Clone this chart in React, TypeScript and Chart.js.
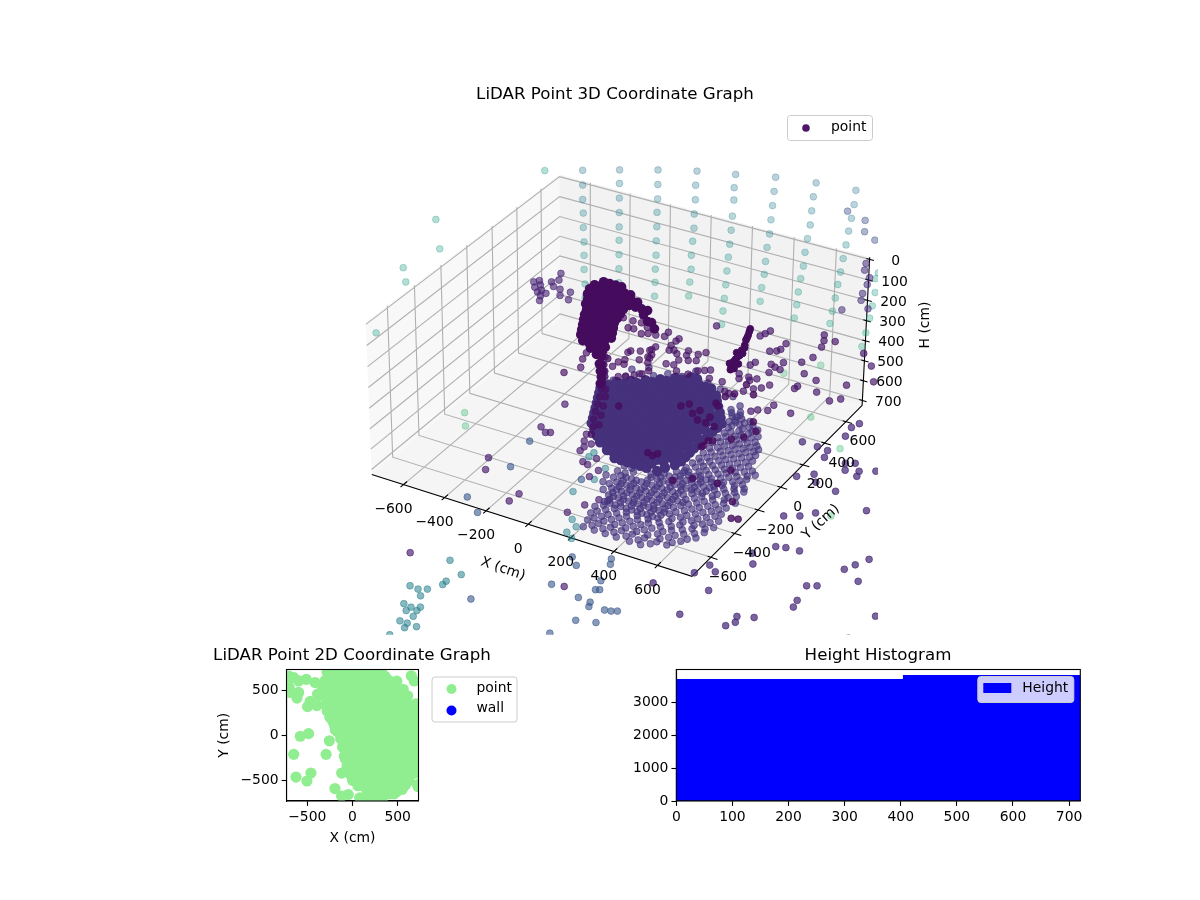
import React, { useEffect, useRef } from "react";
import { Chart, registerables } from "chart.js";

Chart.register(...registerables);

/* ---------- axis ranges and ticks ---------- */
const xyLimit = 756;
const heightTop = -10;
const heightBottom = 725;
const xTicks = [-600, -400, -200, 0, 200, 400, 600];
const yTicks = [-600, -400, -200, 0, 200, 400, 600];
const hTicks = [0, 100, 200, 300, 400, 500, 600, 700];
const planTicks = [-500, 0, 500];
const histXTicks = [0, 100, 200, 300, 400, 500, 600, 700];
const histYTicks = [0, 1000, 2000, 3000];

/* ---------- 3D data, cm ---------- */
const floorH = 722;
const cmScale = 756 / 740;

// on the far side: [x, H, colour]
const wallColA = [[-625,-62,.38],[-625,11,.40],[-625,83,.42],[-622,150,.44],[-622,223,.46],[-618,295,.48],[-618,363,.50],[-618,435,.52],[-613,508,.54],[-613,580,.56],[-613,648,.58]];
const wallColB = [[-444,-112,.38],[-444,-45,.40],[-444,27,.42],[-444,99,.44],[-444,171,.46],[-444,238,.48],[-444,310,.50],[-444,382,.52],[-444,453,.54]];
const wallColC = [[-258,-161,.38],[-258,-90,.40],[-258,-19,.42],[-260,48,.44],[-260,119,.46],[-262,190,.48],[-262,262,.50],[-265,333,.52],[-265,400,.54],[-267,471,.56]];
const wallColD = [[-72,-205,.38],[-77,-135,.40],[-77,-64,.42],[-81,7,.44],[-81,77,.46],[-86,143,.48],[-91,214,.50],[-91,284,.52],[-96,350,.54],[-100,421,.56]];
const wallColE = [[110,-237,.38],[105,-172,.40],[105,-112,.42],[100,-32,.44],[96,38,.46],[91,108,.48],[86,174,.50],[81,244,.52],[77,314,.54],[72,384,.56],[67,449,.58],[62,519,.60]];
const wallColF = [[296,-273,.38],[291,-204,.40],[286,-134,.42],[281,-64,.44],[277,6,.46],[267,75,.48],[262,145,.50],[258,210,.52],[248,279,.54],[243,349,.56]];
const wallColG = [[482,-296,.38],[472,-227,.40],[467,-158,.42],[463,-89,.44],[453,-20,.46],[444,49,.48],[439,118,.50],[429,182,.52],[420,251,.54],[415,316,.56],[406,385,.58]];
const wallColH = [[663,-309,.38],[658,-240,.40],[649,-172,.42],[639,-108,.44],[630,-39,.46],[620,30,.48],[611,98,.50],[601,162,.52],[592,231,.54],[582,299,.56],[573,363,.58]];
const wallColI = [[783,53,.50],[773,84,.52],[773,152,.54],[763,220,.56],[754,283,.58],[740,360,.60],[725,433,.62],[367,676,.68],[539,583,.68]];
const wallBlue = [[630,-201],[711,-179],[711,-125],[759,-98]];
const wallPurple = [[725,24],[720,58],[744,88],[735,124],[716,173],[711,208],[744,240],[625,280]];

// left side: [y, H]
const leftWallDots = [[619,-85],[-224,-240],[-201,-90],[-467,-130],[-452,-55],[-672,75]];

// back-left cluster and mid-height scatter: [x, H]
const backCluster = [[-735,489],[-845,557],[-874,572],[-783,546],[-745,526],[-840,578],[-869,598],[-773,567],[-740,572],[-835,604],[-855,619],[-812,614],[-687,572],[-740,604],[-697,614],[-840,635],[-845,661]];
const midScatterLeft = [[-606,560],[-420,626],[-396,671],[-368,668],[-372,628],[-330,626],[-330,682],[-296,671],[-301,640],[-606,865],[-625,903],[-635,950],[-721,1004],[-396,799],[-382,787],[-334,774],[-287,756],[-277,776],[-296,793],[-411,842],[-415,867],[-339,821],[-444,864],[-296,823],[-473,896],[-511,857],[-444,941],[-406,927],[-363,908],[-325,891],[-291,864]];
const midScatterCentre = [[38,533],[-258,668],[-215,662],[-196,635],[-143,653],[-158,669],[-182,699],[-258,729],[-277,749],[-287,796],[-191,726],[-167,719],[-153,733],[-96,701],[-105,727],[-48,705],[-57,740],[-96,751],[-10,684],[-143,763],[-167,795],[-205,801],[-153,823],[-48,790],[-15,778],[14,767],[-96,822],[9,812]];
const midScatterRight = [[248,522],[296,482],[272,503],[372,524],[296,585],[329,574],[348,560],[229,662],[205,683],[363,623],[305,649],[324,658],[348,663],[296,694],[449,595],[501,555],[463,649],[539,491],[549,456],[549,427],[601,445],[520,666],[663,646],[735,464],[773,516],[787,591],[420,738],[434,722],[525,724],[587,750],[639,724],[153,744],[153,769],[239,744],[200,747],[205,762],[224,800],[176,827],[262,784],[301,757],[72,810],[86,855],[105,860],[324,854],[296,890],[406,870],[248,902],[215,919]];

// dark arms: rows of [H, x list]
const armRows = [
  [470,[-520,-490,-460,-430]],
  [498,[-565,-535,-505,-475,-445,-415,-385]],
  [526,[-590,-560,-530,-500,-470,-440,-410,-380,-350]],
  [554,[-600,-570,-540,-510,-480,-450,-420,-390,-360,-330,-300]],
  [582,[-600,-570,-540,-510,-480,-450,-420,-320]],
  [610,[-610,-580,-550,-520,-490,-460,-435,-300,-280]],
  [638,[-605,-575,-545,-515,-485,-450,-265]],
  [666,[-615,-585,-555,-525,-495,-465]],
  [694,[-620,-590,-560,-530,-500,-470]],
  [722,[-625,-595,-565,-535,-505,-475]],
  [750,[-630,-600,-570,-540,-510,-480]],
  [778,[-635,-605,-575,-545,-515]],
  [806,[-625,-595,-565,-535,-510]],
  [834,[-585,-555,-525]],
  [858,[-555,-530]],
  [903,[-540,-530]],
  [940,[-535,-525]],
  [970,[-530]],
  [1006,[-535]],
];
const rightArm = [[200,500],[196,515],[191,535],[186,550],[181,562],[176,590],[176,604],[162,620],[167,635],[153,650],[143,660],[133,676],[124,690],[119,706],[114,720],[110,736],[148,695],[128,725],[105,705],[138,640]];

// on the floor: rows of [y, x list]
const coreRows = [
  [580,[5,35]],
  [540,[-50,-20,10,40,70,100,125]],
  [500,[-100,-70,-40,-10,20,50,80,110,140,170]],
  [462,[-150,-119,-88,-57,-26,5,36,67,98,129,160,195]],
  [424,[-200,-170,-140,-110,-80,-50,-20,10,40,70,100,130,160,190,222]],
  [386,[-250,-220,-190,-160,-130,-100,-70,-40,-10,20,50,80,110,140,170,200,250]],
  [348,[-298,-268,-238,-208,-178,-148,-118,-88,-58,-28,2,32,62,92,122,152,182,212,242,275]],
  [310,[-283,-253,-223,-193,-163,-133,-103,-73,-43,-13,17,47,77,107,137,167,197,227,257,300]],
  [272,[-267,-237,-207,-177,-147,-117,-87,-57,-27,3,33,63,93,123,153,183,213,243,300]],
  [234,[-251,-221,-191,-161,-131,-101,-71,-41,-11,19,49,79,109,139,169,199,229,259,298]],
  [196,[-234,-204,-174,-144,-114,-84,-54,-24,6,36,66,96,126,156,186,216,246,297]],
  [158,[-218,-188,-158,-128,-98,-68,-38,-8,22,52,82,112,142,172,202,232,262,296]],
  [120,[-202,-172,-142,-112,-82,-52,-22,8,38,68,98,128,158,188,218,248,294]],
  [82,[-186,-156,-126,-96,-66,-36,-6,24,54,84,114,144,174,204,234,264,295]],
  [44,[-170,-140,-110,-80,-50,-20,10,40,70,100,130,160,190,220,250,296]],
  [6,[-135,-105,-75,-45,-15,15,45,75,105,135,165,195,225,255,297]],
  [-32,[-100,-70,-40,-10,20,50,80,110,140,170,200,230,260,298]],
  [-70,[-63,-33,-3,27,57,87,117,147,177,207,237,290]],
  [-108,[-8,22,52,82,112,142,172,202,265]],
  [-146,[50,80,110,140,170,200,250]],
];
const coreFringe = [[-239,445],[-199,495],[-139,511],[-94,555],[-30,566],[-1,635],[-269,393],[-246,512],[-190,561],[90,574],[162,554],[237,527],[299,475],[330,390],[345,350]];
const latticeRows = [
  [-650,[200,250,300,350,410,460]],
  [-600,[190,240,295,345,395,450,505,550]],
  [-550,[175,225,270,320,370,420,480,530,585]],
  [-500,[165,215,265,310,360,410,465,515,570,625]],
  [-450,[180,230,280,330,375,425,475,525,580,635]],
  [-400,[170,215,262,305,355,400,450,500,550,600,650]],
  [-350,[155,200,250,295,340,390,440,490,540,590,645]],
  [-300,[150,195,240,285,335,385,430,480,530,585,630]],
  [-250,[140,190,235,285,330,380,430,480,525,575,625]],
  [-200,[170,280,335,390,440,490,535,590,640]],
  [-155,[260,310,360,415,470,520,570,620]],
  [-110,[320,375,430,480,530,585,630]],
  [-65,[340,400,445,500,555,600]],
  [-20,[345,395,450,500,550,595]],
  [25,[350,400,455,505,560,610]],
  [70,[345,400,450,505,555]],
  [115,[350,400,450,500,550]],
  [160,[340,395,445,495,540]],
  [205,[340,390,440,490,530]],
  [250,[345,395,440,490]],
  [295,[340,390,435,480]],
  [340,[320,370,415,455]],
  [385,[310,355,395]],
  [430,[280,325]],
];
const latticeRowsB = [
  [-625,[225,275,325,380,435,490]],
  [-575,[205,250,300,350,400,450,505,560]],
  [-525,[190,240,290,340,390,440,490,545,600]],
  [-475,[190,240,295,345,395,445,500,550,605]],
  [-425,[190,240,290,330,380,425,475,525,575,625]],
  [-375,[130,175,225,275,320,365,415,465,515,565,620]],
  [-325,[100,130,175,225,270,315,360,410,460,510,560,615]],
  [-275,[85,120,165,215,265,310,355,405,455,505,555,605]],
  [-225,[110,145,250,305,355,405,455,500,550,600]],
  [-178,[115,150,240,285,335,385,440,495,545,595]],
  [-132,[155,350,400,445,505,550,600]],
  [-88,[345,365,420,470,525,575,620]],
  [-42,[370,420,475,525,575]],
  [3,[370,425,480,530,585]],
  [47,[375,430,480,530,585]],
  [92,[370,425,475,530]],
  [137,[375,425,475,525]],
  [182,[365,420,470,520]],
  [228,[365,415,465,510]],
  [272,[365,415,460]],
  [318,[345,395,440]],
  [362,[335,380,420]],
  [408,[295,335]],
];
const latticeRowsC = [
  [-450,[205,255,305,352,400]],
  [-400,[192,238,284,330,378,425]],
  [-350,[178,225,272,318,365,415]],
  [-300,[170,215,262,310,360,408,455]],
  [-250,[165,212,260,308,355,405]],
  [-200,[252,308,362,415,465]],
  [-150,[285,335,388,442,495]],
  [-105,[348,402,455,505]],
];

// separate points on the floor plane: [x, y]
const floorOutliers = [[851,-187],[907,-155],[951,-104],[1120,12],[926,-398],[964,-385],[1021,-379],[868,-485],[906,-551],[764,-641],[805,-671],[738,-717],[1231,-407],[1254,-358],[1284,-297],[1315,-455],[1156,-581],[1191,-561],[844,-796],[634,-857],[1170,-687],[1178,-734],[826,-991],[1021,-896],[1034,-933],[1081,-870],[1013,-971],[1477,-633],[1539,-702],[1560,-750],[1452,-814],[760,101],[814,151],[848,100],[948,79],[1022,297],[922,309],[963,262],[887,289],[910,241],[972,223],[779,341],[792,287],[658,350],[729,347],[798,597],[783,553],[792,479]];
const floorPurple = [[-345,120],[-337,-86],[-298,-115],[-280,-105],[-397,-400],[-359,-483],[-146,-571],[-152,-636],[-144,-43],[-125,-93],[-88,-99],[-102,-133],[-101,-167],[-12,-186],[-48,-234],[-20,-244],[41,-261],[33,-319],[124,-511],[154,-450],[189,-439],[92,-592],[-290,-1145],[350,-1048]];
const floorBlue = [[-319,-206],[-283,-414],[-313,-694],[-217,-770],[16,-354],[300,-1059],[435,-1085],[490,-1090],[501,-1118],[564,-1108],[589,-1102],[610,-1090],[504,-1221],[578,-1196],[463,-1342],[465,-1007],[479,-999],[452,-944],[316,-900],[427,-828],[411,-793],[272,-857],[85,-1297]];
const floorTeal = [[33,-449],[135,-627],[176,-665],[164,-717],[203,-746],[-44,-152],[-46,-189],[-62,-57],[58,-234],[61,-328]];
const farTeal = [[-127,-1113],[-36,-1175],[-62,-1242],[-61,-1268],[-165,-1337],[-126,-1341],[-95,-1323],[-93,-1374],[-119,-1450],[-83,-1456],[-52,-1438],[-86,-1484],[-51,-1464],[-42,-1503],[-69,-1553],[-37,-1552],[6,-1554],[-29,-1582],[-52,-1648],[-49,-1708]];
const floorGreen = [[-672,-148],[-612,-236],[1014,-93],[817,380],[598,543]];
const columnPoints = [[-381,539],[-369,485],[-338,440],[-315,401],[-296,351],[-273,303],[-250,246],[-227,189],[-204,133],[-180,76],[-150,23],[-259,311],[-229,258],[-198,188],[-168,118],[-137,48],[-126,-33]];
const floorDark = [[84,351],[107,382],[200,445],[155,323],[171,358],[199,286],[239,283],[285,274],[233,332],[219,429],[318,119],[317,162],[334,172],[315,108],[147,-42],[175,-52],[186,-29],[393,223],[430,262],[-142,220],[408,389],[453,327],[507,8],[507,-106],[340,-176],[402,-123],[624,-196],[678,-306],[705,-298],[240,643],[305,584],[232,551],[209,511]];

/* ---------- 2D plan view, cm ---------- */
const planFill = [
  [-280,700],[-180,700],[-80,700],[20,700],[120,700],[220,700],[320,700],
  [-230,655],[-130,655],[-30,655],[70,655],[170,655],[270,655],[360,655],
  [-300,610],[-200,610],[-100,610],[0,610],[100,610],[200,610],[300,610],[400,610],[490,600],
  [-260,565],[-160,565],[-60,565],[40,565],[140,565],[240,565],[340,565],[440,565],
  [-330,520],[-230,520],[-130,520],[-30,520],[70,520],[170,520],[270,520],[370,520],[470,520],[560,510],
  [-290,475],[-190,475],[-90,475],[210,475],[310,475],[410,475],[510,475],
  [-370,440],[-280,430],[-180,430],[-80,430],[320,430],[420,430],[520,430],[610,438],
  [370,390],[470,390],[570,390],[400,340],[500,340],[600,350],[700,350],[450,295],[550,295],[700,250],[620,300],[620,200],[700,150],[620,100],[700,50],[620,0],[700,-50],[620,-100],[700,-150],[620,-200],[700,-250],[620,-300],[700,-350],[620,-400],[700,-420],
  [500,250],[500,150],[550,200],[550,100],[660,-10],[660,90],[660,190],[660,-110],[660,-210],[660,-310],[660,-410],[600,-460],
  [60,-560],[160,-620],[260,-640],[340,-660],[420,-600],[520,-540],[250,-720],[160,-700],[330,-720],[720,-548],[110,-560],[210,-680],
  [-80,-260],[-60,-340],[20,-200],[40,-290],[60,-380],[-20,-440],[90,-470],[100,-250],[0,-500],[20,-140],[60,-240],[100,-350],[110,-420],[40,-480],[130,-510],
  [-190,60],[-130,-40],[-110,-130],[-90,-230],[-250,200],[-280,270],[-40,-110],[-60,-190],[-30,-280],[0,-380],[60,-170],
  [320,20],[320,-100],[330,-150],[300,-160],[220,-180],[150,-190],[120,-200],
];
const planOutliers = [[-577,-11],[-486,18],[-256,-62],[-650,-212],[-292,-212],[-625,-464],[-460,-420],[-504,-508],[-120,-420],[-194,-592],[-47,-658],[-120,-676],[80,-694],[-650,640],[-705,658],[-596,603],[-596,475],[-614,413],[-687,475],[-720,600],[-700,530],[-512,621],[-413,585],[-387,457],[-468,376],[-497,318],[-395,329],[683,603],[650,660],[725,-570]];

/* ---------- histogram ---------- */
const binCentres = [22.5,67.5,112.5,157.5,202.5,247.5,292.5,337.5,382.5,427.5,472.5,517.5,562.5,607.5,652.5,697.5];
const binCounts = [3700,3700,3700,3700,3700,3700,3700,3700,3700,3821,3821,3821,3821,3821,3821,3821];

/* ---------- styling ---------- */
const FONT = '"DejaVu Sans"';
const TICK_SIZE = 13.9;
const viridisStops = [[68,1,84],[72,36,117],[65,68,135],[53,95,141],[42,120,142],[33,145,140],[34,168,132],[68,191,112],[122,209,81],[189,223,38],[253,231,37]];

function viridis(c: number, alpha: number) {
  const t = Math.max(0, Math.min(0.9999, c)) * 10;
  const i = Math.floor(t);
  const f = t - i;
  const a = viridisStops[i];
  const b = viridisStops[i + 1];
  const m = (k: number) => Math.round(a[k] + (b[k] - a[k]) * f);
  return `rgba(${m(0)},${m(1)},${m(2)},${alpha})`;
}

const fmt = (v: number) => (v < 0 ? "\u2212" + Math.abs(v) : String(v));

/* ---------- camera: fitted once to the 3D box as it sits in the figure ---------- */
const floorCorners = [
  [-xyLimit, -xyLimit, heightBottom, 372, 476],
  [-xyLimit, xyLimit, heightBottom, 560, 318],
  [xyLimit, xyLimit, heightBottom, 862, 407],
  [xyLimit, -xyLimit, heightBottom, 692, 577],
];
const topCorners = [
  [-xyLimit, -xyLimit, heightTop, 365, 322],
  [-xyLimit, xyLimit, heightTop, 560, 177],
  [xyLimit, xyLimit, heightTop, 870, 256],
];
const boxCorners = [...floorCorners, ...floorCorners, ...floorCorners, ...topCorners];

function fitCamera() {
  const n = 11;
  const A = Array.from({ length: n }, () => new Array(n + 1).fill(0));
  const add = (row: number[], rhs: number) => {
    for (let i = 0; i < n; i++) {
      for (let j = 0; j < n; j++) A[i][j] += row[i] * row[j];
      A[i][n] += row[i] * rhs;
    }
  };
  for (const [X, Y, H, su, sv] of boxCorners) {
    const a = X / xyLimit, b = Y / xyLimit, c = (H - 357.5) / 367.5;
    const u = (su - 620) / 300, v = (sv - 400) / 300;
    add([a, b, c, 1, 0, 0, 0, 0, -u * a, -u * b, -u * c], u);
    add([0, 0, 0, 0, a, b, c, 1, -v * a, -v * b, -v * c], v);
  }
  for (let i = 0; i < n; i++) {
    let p = i;
    for (let r = i + 1; r < n; r++) if (Math.abs(A[r][i]) > Math.abs(A[p][i])) p = r;
    [A[i], A[p]] = [A[p], A[i]];
    for (let r = 0; r < n; r++) {
      if (r === i) continue;
      const f = A[r][i] / A[i][i];
      for (let k = i; k <= n; k++) A[r][k] -= f * A[i][k];
    }
  }
  return A.map((row, i) => row[n] / row[i]);
}
const cam = fitCamera();

function project(x: number, y: number, h: number) {
  const a = x / xyLimit, b = y / xyLimit, c = (h - 357.5) / 367.5;
  const w = cam[8] * a + cam[9] * b + cam[10] * c + 1;
  return {
    x: 620 + (300 * (cam[0] * a + cam[1] * b + cam[2] * c + cam[3])) / w,
    y: 400 + (300 * (cam[4] * a + cam[5] * b + cam[6] * c + cam[7])) / w,
  };
}

const GAP = { x: NaN, y: NaN };
const L = xyLimit;

function polyline(lines: number[][][]) {
  const out: { x: number; y: number }[] = [];
  for (const line of lines) {
    for (const [x, y, h] of line) out.push(project(x, y, h));
    out.push(GAP);
  }
  return out;
}

const rowsToXY = (rows: any[]) => rows.flatMap(([y, xs]: any) => xs.map((x: number) => [x, y]));

const POINT_R = 3.4;

function dots(label: string, pts: { x: number; y: number }[], colors: string | string[], radius = POINT_R, ring = 0.9) {
  return { label, data: pts, showLine: false, pointRadius: radius, pointBorderWidth: ring, pointBorderColor: colors, pointBackgroundColor: colors, backgroundColor: colors, clip: 0 };
}

function lineSet(label: string, lines: number[][][], color: string, width: number) {
  return { label, data: polyline(lines), showLine: true, pointRadius: 0, borderColor: color, borderWidth: width, spanGaps: false, fill: false, clip: 0 };
}

const gridLines = [
  ...xTicks.map((v) => [[v, -L, heightBottom], [v, L, heightBottom], [v, L, heightTop]]),
  ...yTicks.map((v) => [[L, v, heightBottom], [-L, v, heightBottom], [-L, v, heightTop]]),
  ...hTicks.map((v) => [[-L, -L, v], [-L, L, v], [L, L, v]]),
];
const axisLines = [
  [[-L, -L, heightBottom], [L, -L, heightBottom], [L, L, heightBottom]],
  [[L, L, heightBottom], [L, L, heightTop]],
];
const tickLines = [
  ...xTicks.map((v) => [[v, -L - 22, heightBottom], [v, -L + 27, heightBottom]]),
  ...yTicks.map((v) => [[L - 15, v, heightBottom], [L + 30, v, heightBottom]]),
  ...hTicks.map((v) => [[L - 15, L, v], [L + 20, L, v]]),
];

const onBack = (list: number[][]) => list.map(([x, h]) => project(x * cmScale, L, h));
const onFloor = (list: number[][]) => list.map(([x, y]) => project(x * cmScale, y * cmScale, floorH));
const wallCols = [wallColA, wallColB, wallColC, wallColD, wallColE, wallColF, wallColG, wallColH, wallColI];
const wallAll = wallCols.flat();

const layers3D: any[] = [
  lineSet("grid", gridLines, "#b0b0b0", 1.1),
  lineSet("axes", axisLines, "#000000", 1.1),
  lineSet("ticks", tickLines, "#000000", 1.1),
  dots("wall", onBack(wallAll), wallAll.map(([, , c]) => viridis(c, 0.32))),
  dots("wall blue", onBack(wallBlue), viridis(0.24, 0.42)),
  dots("wall purple", onBack(wallPurple), viridis(0.13, 0.55)),
  dots("left wall", leftWallDots.map(([y, h]) => project(-L, y * cmScale, h)), viridis(0.56, 0.34)),
  dots("green", onFloor(floorGreen), viridis(0.68, 0.36)),
  dots("far teal", onFloor(farTeal), viridis(0.43, 0.55)),
  dots("blue", onFloor(floorBlue), viridis(0.27, 0.6)),
  dots("teal", onFloor(floorTeal), viridis(0.43, 0.5)),
  dots("purple", onFloor(floorPurple), viridis(0.08, 0.66)),
  dots("outliers", onFloor(floorOutliers), viridis(0.12, 0.72)),
  dots("back cluster", onBack(backCluster), viridis(0.1, 0.62)),
  dots("lattice", onFloor(rowsToXY(latticeRows)), viridis(0.15, 0.64)),
  dots("lattice b", onFloor(rowsToXY(latticeRowsB)), viridis(0.15, 0.64)),
  dots("lattice c", onFloor(rowsToXY(latticeRowsC)), viridis(0.15, 0.64)),
  dots("fringe", onFloor(coreFringe), viridis(0.15, 0.65)),
  dots("core", onFloor(rowsToXY(coreRows)), viridis(0.14, 1), 5.2, 0),
  dots("column", onFloor(columnPoints), viridis(0.05, 0.8)),
  dots("mid left", onBack(midScatterLeft), viridis(0.04, 0.66)),
  dots("mid centre", onBack(midScatterCentre), viridis(0.05, 0.66)),
  dots("mid right", onBack(midScatterRight), viridis(0.06, 0.68)),
  dots("dark", onFloor(floorDark), viridis(0.03, 0.8)),
  dots("arm", onBack(armRows.flatMap(([h, xs]: any) => xs.map((x: number) => [x, h]))), viridis(0.03, 1), 4.8, 0),
  dots("right arm", onBack(rightArm), viridis(0.03, 1)),
];

/* ---------- plugins ---------- */
function text(ctx: any, s: string, x: number, y: number, font: string, align = "center", rot = 0) {
  ctx.save();
  ctx.translate(x, y);
  ctx.rotate(rot);
  ctx.font = font;
  ctx.fillStyle = "#000";
  ctx.textAlign = align;
  ctx.textBaseline = "middle";
  ctx.fillText(s, 0, 0);
  ctx.restore();
}

function legendFrame(ctx: any, x: number, y: number, w: number, h: number) {
  ctx.save();
  ctx.beginPath();
  ctx.roundRect(x + 0.5, y + 0.5, w, h, 3);
  ctx.fillStyle = "rgba(255,255,255,0.8)";
  ctx.fill();
  ctx.strokeStyle = "#cccccc";
  ctx.lineWidth = 1;
  ctx.stroke();
  ctx.restore();
}

const framePlugin = {
  id: "frame",
  afterDraw(chart: any) {
    const { ctx, chartArea: a } = chart;
    ctx.save();
    ctx.strokeStyle = "#000";
    ctx.lineWidth = 1.1;
    ctx.strokeRect(a.left, a.top, a.right - a.left, a.bottom - a.top);
    ctx.restore();
  },
};

const tickFont = `${TICK_SIZE}px ${FONT}`;
const titleFont = `16.67px ${FONT}`;

function headingPlugin(s: string, x: number, y: number) {
  return {
    id: "heading",
    afterDraw(chart: any) {
      text(chart.ctx, s, x, y, titleFont);
    },
  };
}

const box3DPlugin = {
  id: "box3d",
  beforeDatasetsDraw(chart: any) {
    const { ctx, scales } = chart;
    const poly = (pts: number[][], fill: string) => {
      ctx.beginPath();
      pts.forEach(([x, y, h], i) => {
        const p = project(x, y, h);
        const px = scales.x.getPixelForValue(p.x);
        const py = scales.y.getPixelForValue(p.y);
        if (i) ctx.lineTo(px, py);
        else ctx.moveTo(px, py);
      });
      ctx.closePath();
      ctx.fillStyle = fill;
      ctx.fill();
    };
    ctx.save();
    poly([[-L, -L, heightBottom], [-L, L, heightBottom], [-L, L, heightTop], [-L, -L, heightTop]], "rgba(242,242,242,0.5)");
    poly([[-L, L, heightBottom], [L, L, heightBottom], [L, L, heightTop], [-L, L, heightTop]], "rgba(230,230,230,0.5)");
    poly([[-L, -L, heightBottom], [L, -L, heightBottom], [L, L, heightBottom], [-L, L, heightBottom]], "rgba(236,236,236,0.5)");
    ctx.restore();
  },
  afterDraw(chart: any) {
    const { ctx, scales } = chart;
    const at = (p: { x: number; y: number }) => [scales.x.getPixelForValue(p.x), scales.y.getPixelForValue(p.y)];
    xTicks.forEach((v) => {
      const [px, py] = at(project(v, -L, heightBottom));
      text(ctx, fmt(v), px - 10, py + 25, tickFont);
    });
    yTicks.forEach((v) => {
      const [px, py] = at(project(L, v, heightBottom));
      text(ctx, fmt(v), px + 17, py + 20, tickFont);
    });
    hTicks.forEach((v) => {
      const [px, py] = at(project(L, L, v));
      text(ctx, fmt(v), px + 26, py + 2, tickFont);
    });
    const x0 = chart.chartArea.left - 322;
    text(ctx, "X (cm)", x0 + 503, 569, tickFont, "center", (19 * Math.PI) / 180);
    text(ctx, "Y (cm)", x0 + 821, 522, tickFont, "center", (-42 * Math.PI) / 180);
    text(ctx, "H (cm)", x0 + 925, 325, tickFont, "center", -Math.PI / 2);
    // legend
    legendFrame(ctx, x0 + 787, 115, 85, 25);
    ctx.save();
    ctx.beginPath();
    ctx.arc(x0 + 806, 128, 3.8, 0, Math.PI * 2);
    ctx.fillStyle = viridis(0.03, 0.95);
    ctx.fill();
    ctx.restore();
    text(ctx, "point", x0 + 831, 127.5, tickFont, "left");
  },
};

const planLegendPlugin = {
  id: "planLegend",
  afterDraw(chart: any) {
    const { ctx, chartArea: a } = chart;
    const x0 = a.right + 13;
    legendFrame(ctx, x0, a.top + 7, 85, 45);
    const dot = (y: number, c: string) => {
      ctx.save();
      ctx.beginPath();
      ctx.arc(x0 + 20, a.top + y, 5, 0, Math.PI * 2);
      ctx.fillStyle = c;
      ctx.fill();
      ctx.restore();
    };
    dot(19.5, "#90ee90");
    dot(41, "#0000ff");
    text(ctx, "point", x0 + 45, a.top + 18.5, tickFont, "left");
    text(ctx, "wall", x0 + 45, a.top + 39, tickFont, "left");
  },
};

const histLegendPlugin = {
  id: "histLegend",
  afterDraw(chart: any) {
    const { ctx, chartArea: a } = chart;
    const x0 = a.right - 103;
    legendFrame(ctx, x0, a.top + 6.5, 96, 26);
    ctx.save();
    ctx.fillStyle = "#0000ff";
    ctx.fillRect(x0 + 6, a.top + 13.5, 28, 10);
    ctx.restore();
    text(ctx, "Height", x0 + 45, a.top + 18.5, tickFont, "left");
  },
};

function axis(ticks: number[], min: number, max: number, size: number, label?: string) {
  return {
    type: "linear",
    min,
    max,
    offset: false,
    afterFit: (s: any) => {
      if (s.isHorizontal()) s.height = size;
      else s.width = size;
    },
    afterBuildTicks: (s: any) => {
      s.ticks = ticks.map((value) => ({ value }));
    },
    border: { display: true, color: "#000", width: 1.1 },
    grid: { display: true, offset: false, drawOnChartArea: false, drawTicks: true, tickLength: 4.9, tickColor: "#000", tickWidth: 1.1 },
    ticks: {
      autoSkip: false,
      maxRotation: 0,
      padding: 3,
      color: "#000",
      font: { family: FONT, size: TICK_SIZE },
      callback: (v: number) => fmt(v),
    },
    title: label
      ? { display: true, text: label, color: "#000", font: { family: FONT, size: TICK_SIZE }, padding: { top: 2, bottom: 1 } }
      : { display: false },
  };
}

const base = {
  responsive: false,
  animation: false,
  devicePixelRatio: 1,
  events: [],
};
const quiet = { legend: { display: false }, tooltip: { enabled: false }, title: { display: false } };

export default function App() {
  const main = useRef<HTMLCanvasElement>(null);
  const plan = useRef<HTMLCanvasElement>(null);
  const hist = useRef<HTMLCanvasElement>(null);

  useEffect(() => {
    const n = layers3D.length;
    const c1 = new Chart(main.current!, {
      type: "scatter",
      data: { datasets: layers3D.map((d, i) => ({ ...d, order: n - i })) },
      options: {
        ...base,
        layout: { padding: { left: 292, right: 322, top: 108, bottom: 4 } },
        plugins: quiet,
        scales: {
          x: { type: "linear", display: false, min: 322, max: 878 },
          y: { type: "linear", display: false, min: 108, max: 636, reverse: true },
        },
      } as any,
      plugins: [box3DPlugin, headingPlugin("LiDAR Point 3D Coordinate Graph", 585, 95)],
    } as any);

    const planRows = [...coreRows, ...latticeRows, ...latticeRowsB, ...latticeRowsC];
    const planPts = [...rowsToXY(planRows), ...planFill, ...planOutliers].map(([x, y]) => ({ x, y }));
    const c2 = new Chart(plan.current!, {
      type: "scatter",
      data: {
        datasets: [
          { label: "point", data: planPts, pointRadius: 5.6, pointBorderWidth: 0, pointBackgroundColor: "#90ee90", backgroundColor: "#90ee90" },
          { label: "wall", data: [], pointRadius: 5, pointBackgroundColor: "#0000ff", backgroundColor: "#0000ff" },
        ],
      },
      options: {
        ...base,
        layout: { padding: { left: 34.5, right: 105.5, top: 29.5, bottom: 2 } },
        plugins: quiet,
        scales: {
          x: axis(planTicks, -730, 730, 47, "X (cm)"),
          y: axis(planTicks, -730, 730, 72, "Y (cm)"),
        },
      } as any,
      plugins: [framePlugin, planLegendPlugin, headingPlugin("LiDAR Point 2D Coordinate Graph", 172, 16)],
    } as any);

    const c3 = new Chart(hist.current!, {
      type: "bar",
      data: {
        datasets: [
          {
            label: "Height",
            data: binCentres.map((x, i) => ({ x, y: binCounts[i] })),
            backgroundColor: "#0000ff",
            borderWidth: 0,
            barPercentage: 1.05,
            categoryPercentage: 1,
            inflateAmount: 0,
          },
        ],
      },
      options: {
        ...base,
        layout: { padding: { left: 0, right: 50.7, top: 29.5, bottom: 4 } },
        plugins: quiet,
        scales: {
          x: axis(histXTicks, 0, 720, 45),
          y: axis(histYTicks, 0, 3988, 51.3),
        },
      } as any,
      plugins: [framePlugin, histLegendPlugin, headingPlugin("Height Histogram", 253, 16)],
    } as any);

    return () => {
      c1.destroy();
      c2.destroy();
      c3.destroy();
    };
  }, []);

  const pos = (left: number, top: number) => ({ position: "absolute" as const, left, top, display: "block" });
  return (
    <div style={{ position: "absolute", left: 0, top: 0, width: 1200, height: 900, background: "#fff", overflow: "hidden" }}>
      <canvas ref={main} width={1170} height={640} style={pos(30, 0)} />
      <canvas ref={plan} width={344} height={210} style={pos(180, 640)} />
      <canvas ref={hist} width={506} height={210} style={pos(625, 640)} />
    </div>
  );
}
